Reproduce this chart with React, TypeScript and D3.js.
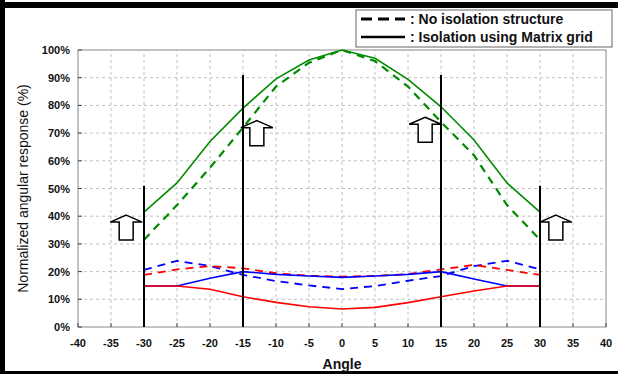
import React from "react";
import * as d3 from "d3";

const angles = [-30, -25, -20, -15, -10, -5, 0, 5, 10, 15, 20, 25, 30];
const greenSolid = [41.5, 52, 67, 79, 89.6, 96.4, 100, 97, 89.4, 79.5, 67.5, 52, 41.5];
const greenDashed = [31.5, 44, 57.5, 72, 86.8, 95.4, 100, 96, 86.8, 74, 62, 44, 31.5];
const blueDashed = [20.6, 23.9, 22, 18.8, 16.6, 15, 13.7, 14.8, 16.7, 18.4, 22, 23.9, 20.8];
const redDashed = [18.8, 20.8, 22, 21.2, 19.4, 18.5, 18.2, 18.4, 19.1, 20.8, 22.4, 20.6, 18.8];
const blueSolid = [14.8, 14.8, 17.6, 20, 19, 18.4, 17.9, 18.4, 19, 20, 17.3, 14.8, 14.8];
const redSolid = [14.8, 14.8, 13.6, 10.9, 8.9, 7.3, 6.5, 7.1, 8.8, 10.9, 13, 14.8, 14.8];

const xTicks = d3.range(-40, 41, 5);
const yTicks = d3.range(0, 101, 10);
const markerLines = [
  { angle: -30, top: 51 },
  { angle: -15, top: 91 },
  { angle: 15, top: 91 },
  { angle: 30, top: 51 },
];
const arrows = [
  { angle: -32.7, tip: 40.4 },
  { angle: -12.9, tip: 74.5 },
  { angle: 12.6, tip: 75.7 },
  { angle: 32.4, tip: 40.4 },
];

const W = 618;
const H = 378;
const x = d3.scaleLinear().domain([-40, 40]).range([78, 606]);
const y = d3.scaleLinear().domain([0, 100]).range([327, 50]);

const font = "'Liberation Sans', Arial, sans-serif";

export default function App() {
  const line = d3
    .line<number>()
    .x((_, i) => x(angles[i]))
    .y((d) => y(d));

  const series = [
    { data: greenSolid, color: "#008a00", dash: "", w: 1.6 },
    { data: greenDashed, color: "#008a00", dash: "8,6", w: 2.2 },
    { data: blueDashed, color: "#0000ff", dash: "8,6", w: 1.8 },
    { data: redDashed, color: "#ff0000", dash: "8,6", w: 1.8 },
    { data: blueSolid, color: "#0000ff", dash: "", w: 1.6 },
    { data: redSolid, color: "#ff0000", dash: "", w: 1.6 },
  ];

  const arrowPath = (cx: number, tipY: number) => {
    const hw = 16, sw = 7, hh = 7, total = 25;
    return `M${cx},${tipY} L${cx + hw},${tipY + hh} L${cx + sw},${tipY + hh} L${cx + sw},${tipY + total} L${cx - sw},${tipY + total} L${cx - sw},${tipY + hh} L${cx - hw},${tipY + hh} Z`;
  };

  return (
    <svg width={W} height={H} style={{ position: "absolute", left: 0, top: 0 }}>
      <rect x={0} y={0} width={W} height={H} fill="white" />
      {/* frame */}
      <rect x={0} y={2} width={W} height={6} fill="black" />
      <rect x={0} y={0} width={5} height={374} fill="black" />
      <rect x={0} y={371} width={W} height={3} fill="black" />

      {/* grid */}
      {xTicks.slice(1, -1).map((t) => (
        <line key={"gx" + t} x1={x(t)} x2={x(t)} y1={y(0)} y2={y(100)} stroke="#c0c0c0" strokeDasharray="3,3" strokeWidth={1} />
      ))}
      {yTicks.slice(1, -1).map((t) => (
        <line key={"gy" + t} x1={x(-40)} x2={x(40)} y1={y(t)} y2={y(t)} stroke="#c0c0c0" strokeDasharray="3,3" strokeWidth={1} />
      ))}
      <rect x={x(-40)} y={y(100)} width={x(40) - x(-40)} height={y(0) - y(100)} fill="none" stroke="#888" strokeWidth={1} />
      {xTicks.map((t) => (
        <line key={"tx" + t} x1={x(t)} x2={x(t)} y1={y(0)} y2={y(0) - 4} stroke="#444" />
      ))}
      {yTicks.map((t) => (
        <line key={"ty" + t} x1={x(-40)} x2={x(-40) + 4} y1={y(t)} y2={y(t)} stroke="#444" />
      ))}

      {/* tick labels */}
      {xTicks.map((t) => (
        <text key={"lx" + t} x={x(t)} y={347} textAnchor="middle" fontFamily={font} fontSize={11} fontWeight="bold" fill="#111">
          {t}
        </text>
      ))}
      {yTicks.map((t) => (
        <text key={"ly" + t} x={70} y={y(t) + 4} textAnchor="end" fontFamily={font} fontSize={11} fontWeight="bold" fill="#111">
          {t + "%"}
        </text>
      ))}
      <text x={342} y={369} textAnchor="middle" fontFamily={font} fontSize={14} fontWeight="bold" fill="#111">
        Angle
      </text>
      <text transform={`translate(28,${y(50)}) rotate(-90)`} textAnchor="middle" fontFamily={font} fontSize={14} fill="#111">
        Normalized angular response (%)
      </text>

      {/* series */}
      {series.map((s, i) => (
        <path key={"s" + i} d={line(s.data) || ""} fill="none" stroke={s.color} strokeWidth={s.w} strokeDasharray={s.dash} />
      ))}

      {/* marker lines */}
      {markerLines.map((m) => (
        <line key={"m" + m.angle} x1={x(m.angle)} x2={x(m.angle)} y1={y(0)} y2={y(m.top)} stroke="black" strokeWidth={2} />
      ))}

      {/* arrows */}
      {arrows.map((a) => (
        <path key={"a" + a.angle} d={arrowPath(x(a.angle), y(a.tip))} fill="white" stroke="black" strokeWidth={1.5} />
      ))}

      {/* legend */}
      <rect x={356} y={10} width={256} height={37} fill="white" stroke="#666" strokeWidth={1} />
      <line x1={361} x2={405} y1={19} y2={19} stroke="black" strokeWidth={3} strokeDasharray="11,6" />
      <line x1={361} x2={405} y1={37} y2={37} stroke="black" strokeWidth={2.5} />
      <text x={410} y={24} fontFamily={font} fontSize={14} fontWeight="bold" fill="#111">
        : No isolation structure
      </text>
      <text x={410} y={42} fontFamily={font} fontSize={14} fontWeight="bold" fill="#111">
        : Isolation using Matrix grid
      </text>
    </svg>
  );
}
